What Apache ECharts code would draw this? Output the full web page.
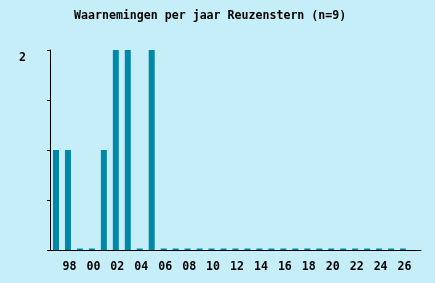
<!DOCTYPE html>
<html><head><meta charset="utf-8">
<script src="https://cdn.jsdelivr.net/npm/echarts@6/dist/echarts.min.js"></script>
<style>html,body{margin:0;padding:0;background:#c6eef8;}#c{width:435px;height:283px;}</style>
</head><body><div id="c"></div>
<script>
const titleText = 'Waarnemingen per jaar Reuzenstern (n=9)';
const years = [1997,1998,1999,2000,2001,2002,2003,2004,2005,2006,2007,2008,2009,2010,2011,2012,2013,2014,2015,2016,2017,2018,2019,2020,2021,2022,2023,2024,2025,2026,2027];
const counts = [1,1,0,0,1,2,2,0,2,0,0,0,0,0,0,0,0,0,0,0,0,0,0,0,0,0,0,0,0,0,null];
const yLabels = {2: '2'};

const font = '"DejaVu Sans Mono", "Liberation Mono", monospace';
const chart = echarts.init(document.getElementById('c'), null, {renderer: 'canvas'});
chart.setOption({
  backgroundColor: '#c6eef8',
  animation: false,
  title: {
    text: titleText, left: 69, top: 5,
    textStyle: {fontFamily: font, fontSize: 11.6, fontWeight: 'bold', color: '#000'}
  },
  grid: {left: 50, right: 14, top: 50, bottom: 33},
  xAxis: {
    type: 'category',
    data: years.map(y => String(y % 100).padStart(2, '0')),
    boundaryGap: true,
    axisLine: {lineStyle: {color: '#000', width: 1}},
    axisTick: {alignWithLabel: true, length: 3, interval: (i) => i % 2 === 1, lineStyle: {color: '#000'}},
    axisLabel: {interval: (i) => i % 2 === 1 && i < years.length - 1, fontFamily: font, fontSize: 11.6, fontWeight: 'bold', color: '#000', margin: 11, padding: [0, 0, 0, 3]}
  },
  yAxis: {
    type: 'value', min: 0, max: 2, interval: 0.5,
    splitLine: {show: false},
    axisLine: {show: true, lineStyle: {color: '#000', width: 1}},
    axisTick: {show: true, length: 3, lineStyle: {color: '#000'}},
    axisLabel: {
      formatter: (v) => yLabels[v] || '',
      fontFamily: font, fontSize: 11.6, fontWeight: 'bold', color: '#000',
      margin: 24, verticalAlign: 'top', padding: [2, 0, 0, 0]
    }
  },
  series: [{
    type: 'bar',
    data: counts,
    barWidth: '50%',
    barMinHeight: 1.5,
    itemStyle: {color: '#0088a8'}
  }]
});
</script></body></html>
